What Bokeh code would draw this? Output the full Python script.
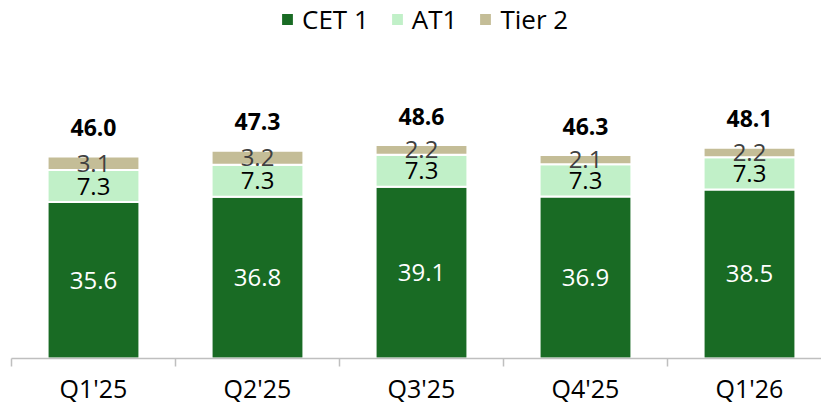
from bokeh.plotting import figure
from bokeh.models import (Range1d, LinearAxis, FixedTicker, Legend, LegendItem,
                          ColumnDataSource)
from bokeh.core.properties import value
from bokeh.embed import file_html
from bokeh.resources import INLINE

categories = ["Q1'25", "Q2'25", "Q3'25", "Q4'25", "Q1'26"]
cet1 = [35.6, 36.8, 39.1, 36.9, 38.5]
at1 = [7.3, 7.3, 7.3, 7.3, 7.3]
tier2 = [3.1, 3.2, 2.2, 2.1, 2.2]
totals = [46.0, 47.3, 48.6, 46.3, 48.1]

C_CET1 = "#196B24"
C_AT1 = "#C1F0C8"
C_T2 = "#C4BD97"
FONT = "Open Sans"

xs = [i + 0.5 for i in range(len(categories))]
bounds = [i for i in range(len(categories) + 1)]

src = ColumnDataSource(dict(
    x=xs, cet1=cet1, at1=at1, tier2=tier2,
    cet1_mid=[c / 2 for c in cet1],
    at1_mid=[c + a / 2 for c, a in zip(cet1, at1)],
    t2_mid=[c + a + t / 2 for c, a, t in zip(cet1, at1, tier2)],
    top=[c + a + t for c, a, t in zip(cet1, at1, tier2)],
    cet1_txt=[f"{v:.1f}" for v in cet1],
    at1_txt=[f"{v:.1f}" for v in at1],
    t2_txt=[f"{v:.1f}" for v in tier2],
    tot_txt=[f"{v:.1f}" for v in totals],
))

p = figure(frame_width=810, frame_height=358,
           x_range=Range1d(0, 4.939), y_range=Range1d(0, 81.5),
           x_axis_location=None, y_axis_location=None,
           output_backend="svg", toolbar_location=None,
           min_border_left=11, min_border_right=0, min_border_top=0,
           min_border_bottom=0)
p.xgrid.visible = False
p.ygrid.visible = False
p.outline_line_color = None

rs = p.vbar_stack(["cet1", "at1", "tier2"], x="x", width=0.56, source=src,
                  color=[C_CET1, C_AT1, C_T2], line_color="white", line_width=2)

p.text(x="x", y="cet1_mid", text="cet1_txt", source=src, text_align="center",
       text_baseline="middle", text_font=value(FONT), text_font_size="24px",
       text_color="white")
p.text(x="x", y="at1_mid", text="at1_txt", source=src, text_align="center",
       text_baseline="middle", text_font=value(FONT), text_font_size="24px",
       text_color="black")
p.text(x="x", y="t2_mid", text="t2_txt", source=src, text_align="center",
       text_baseline="middle", text_font=value(FONT), text_font_size="24px",
       text_color="#404040")
p.text(x="x", y="top", text="tot_txt", source=src, text_align="center",
       text_baseline="middle", y_offset=-29, text_font=value(FONT),
       text_font_size="23px", text_font_style="bold", text_color="black")

xaxis = LinearAxis(ticker=FixedTicker(ticks=xs, minor_ticks=bounds),
                   major_label_overrides={x: c for x, c in zip(xs, categories)},
                   axis_line_color="#BFBFBF", axis_line_width=1.5,
                   major_tick_line_color=None, major_tick_out=8, major_tick_in=0,
                   minor_tick_line_color="#BFBFBF", minor_tick_line_width=1.5,
                   minor_tick_out=8, minor_tick_in=0,
                   major_label_text_font=FONT,
                   major_label_text_font_size="25px",
                   major_label_text_color="black",
                   major_label_standoff=4)
p.add_layout(xaxis, "below")

legend = Legend(items=[LegendItem(label="CET 1", renderers=[rs[0]]),
                       LegendItem(label="AT1", renderers=[rs[1]]),
                       LegendItem(label="Tier 2", renderers=[rs[2]])],
                orientation="horizontal", location=(268, 321),
                label_text_font=FONT, label_text_font_size="26px",
                label_text_color="black",
                glyph_width=16, glyph_height=16, label_standoff=7, spacing=20,
                padding=0, margin=0, border_line_color=None,
                background_fill_alpha=0)
p.add_layout(legend, "center")

open("out.html", "w").write(file_html(p, INLINE))
